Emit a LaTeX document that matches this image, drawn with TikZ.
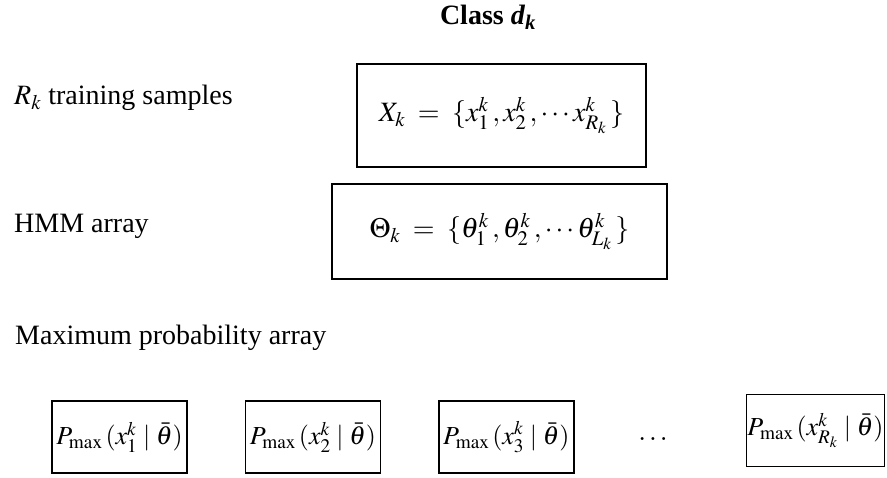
\documentclass[tikz,border=0pt]{standalone}
\usepackage{mathptmx}
\usepackage[no-math]{fontspec}
\setmainfont{Liberation Serif}
\usetikzlibrary{positioning}

\begin{document}
\begin{tikzpicture}[
    x=1pt, y=1pt,
    node distance=10pt and 57pt,
    every node/.style={font=\fontsize{28}{32}\selectfont},
    % plain labels on the left
    lbl/.style={anchor=west, inner sep=0pt},
    % framed sets of the class
    setbox/.style={draw, line width=1.3pt, minimum height=95pt, inner sep=0pt},
    % one cell of the maximum probability array
    pbox/.style={draw, line width=1.4pt, minimum width=135pt, minimum height=72pt, inner sep=0pt,
                 font=\fontsize{26}{30}\selectfont}
]
\useasboundingbox (0,0) rectangle (887,477);

\node[font=\fontsize{28}{32}\selectfont\bfseries] (title) at (488,460)
    {Class \textit{d}\textsubscript{\textit{k}}};

\node[lbl] (samples) at (14,379) {$R_k$ training samples};
\node[setbox, line width=2pt, minimum width=289pt, minimum height=103pt] (xset) at (501.5,361.5)
    {$X_{k}\;=\;\{x_1^k\,,x_2^k\,,\cdots x_{R_k}^k\,\}$};

\node[lbl] (hmm) at (14,251) {HMM array};
\node[setbox, minimum width=335pt] (thset) at (499.5,245.5)
    {$\Theta_{k}\;=\;\{\theta_1^k\,,\theta_2^k\,,\cdots \theta_{L_k}^k\,\}$};

\node[lbl] (maxp) at (15,139) {Maximum probability array};

\node[pbox] (pm1) at (119.5,40) {$P_{\max}\mskip2mu(x_1^k\mid\bar{\theta})$};
\node[pbox, right=of pm1] (pm2) {$P_{\max}\mskip2mu(x_2^k\mid\bar{\theta})$};
\node[pbox, right=of pm2] (pm3) {$P_{\max}\mskip2mu(x_3^k\mid\bar{\theta})$};
\node (dots) at (653,38) {$\ldots$};
\node[pbox, line width=1.8pt, minimum width=138pt] (pmr) at (815.5,46.5) {$P_{\max}\mskip2mu(x_{R_k}^k\mid\bar{\theta})$};

\end{tikzpicture}
\end{document}
